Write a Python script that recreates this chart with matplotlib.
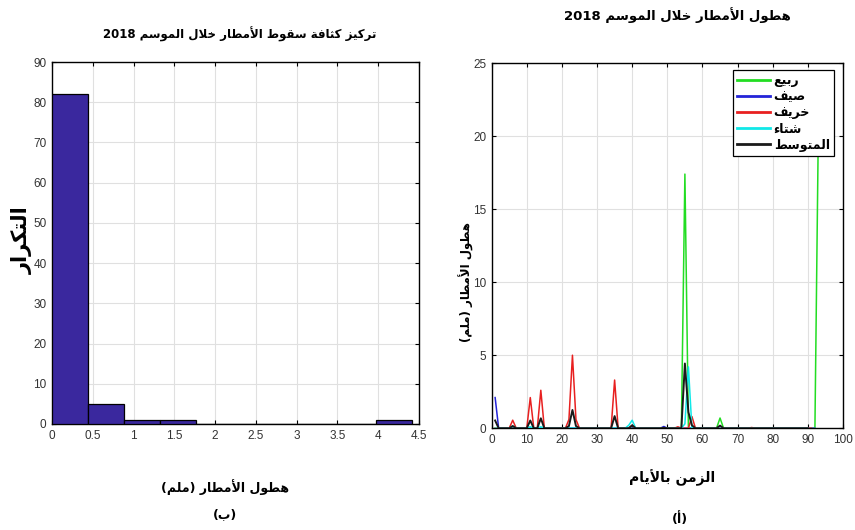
import re
import numpy as np
import matplotlib
matplotlib.use('Agg')
import matplotlib.pyplot as plt

# ---- data ----
# histogram of the daily mean (10 bins from 0 to the max)
hist_counts = [82, 5, 1, 1, 0, 0, 0, 0, 0, 1]
hist_max = 4.42

# daily rainfall per season (only the non-zero days, the rest are 0)
spring_len = 93
spring_days = [55, 65, 93]
spring_vals = [17.4, 0.7, 21.0]

summer_len = 92
summer_days = [1, 49]
summer_vals = [2.1, 0.12]

autumn_len = 91
autumn_days = [6, 11, 14, 22, 23, 24, 35, 40, 53, 57, 74]
autumn_vals = [0.55, 2.1, 2.6, 0.6, 5.0, 0.6, 3.3, 0.2, 0.1, 0.8, 0.05]

winter_len = 90
winter_days = [6, 11, 14, 39, 40, 55, 56]
winter_vals = [0.15, 0.1, 0.1, 0.2, 0.55, 0.3, 4.2]

mean_len = 90
mean_days = [1, 6, 11, 14, 22, 23, 24, 35, 40, 49, 55, 56, 57, 65]
mean_vals = [0.53, 0.15, 0.53, 0.68, 0.15, 1.25, 0.15, 0.83, 0.2, 0.03, 4.43, 1.1, 0.2, 0.18]

# ---- arabic shaping (matplotlib does no shaping / bidi) ----
AR_FORMS = {
    'ء': (0xFE80, 1), 'أ': (0xFE83, 2), 'ا': (0xFE8D, 2), 'ب': (0xFE8F, 4),
    'ة': (0xFE93, 2), 'ت': (0xFE95, 4), 'ث': (0xFE99, 4), 'ج': (0xFE9D, 4),
    'ح': (0xFEA1, 4), 'خ': (0xFEA5, 4), 'د': (0xFEA9, 2), 'ذ': (0xFEAB, 2),
    'ر': (0xFEAD, 2), 'ز': (0xFEAF, 2), 'س': (0xFEB1, 4), 'ش': (0xFEB5, 4),
    'ص': (0xFEB9, 4), 'ض': (0xFEBD, 4), 'ط': (0xFEC1, 4), 'ظ': (0xFEC5, 4),
    'ع': (0xFEC9, 4), 'غ': (0xFECD, 4), 'ف': (0xFED1, 4), 'ق': (0xFED5, 4),
    'ك': (0xFED9, 4), 'ل': (0xFEDD, 4), 'م': (0xFEE1, 4), 'ن': (0xFEE5, 4),
    'ه': (0xFEE9, 4), 'و': (0xFEED, 2), 'ى': (0xFEEF, 2), 'ي': (0xFEF1, 4),
    'لا': (0xFEFB, 2), 'لأ': (0xFEF7, 2),
}


def ar(s):
    toks = []
    i = 0
    while i < len(s):
        if s[i] == 'ل' and i + 1 < len(s) and s[i + 1] in 'اأ':
            toks.append(s[i:i + 2])
            i += 2
        else:
            toks.append(s[i])
            i += 1
    out = []
    for k, t in enumerate(toks):
        if t not in AR_FORMS:
            out.append(t)
            continue
        base, n = AR_FORMS[t]
        prev = toks[k - 1] if k > 0 else None
        nxt = toks[k + 1] if k + 1 < len(toks) else None
        jp = prev in AR_FORMS and AR_FORMS[prev][1] == 4 and n > 1
        jn = n == 4 and nxt in AR_FORMS and AR_FORMS[nxt][1] > 1
        idx = {(False, False): 0, (True, False): 1, (False, True): 2, (True, True): 3}[(jp, jn)]
        out.append(chr(base + idx))
    vis = ''.join(out[::-1])
    vis = re.sub(r'[0-9]+', lambda m: m.group()[::-1], vis)
    return vis.translate(str.maketrans('()', ')('))


def series(n, days, vals):
    y = np.zeros(n)
    y[np.array(days) - 1] = vals
    return np.arange(1, n + 1), y


plt.rcParams['font.family'] = ['DejaVu Sans']

fig = plt.figure(figsize=(8.55, 5.3), dpi=100)

# ---------- left: histogram ----------
ax1 = fig.add_axes([0.061, 0.2, 0.429, 0.683])
edges = np.linspace(0, hist_max, len(hist_counts) + 1)
ax1.bar(edges[:-1], hist_counts, width=np.diff(edges), align='edge',
        color='#3a289e', edgecolor='black', linewidth=0.9, zorder=3)
ax1.set_xlim(0, 4.5)
ax1.set_ylim(0, 90)
ax1.set_xticks(np.arange(0, 4.51, 0.5))
ax1.set_xticklabels(['0', '0.5', '1', '1.5', '2', '2.5', '3', '3.5', '4', '4.5'])
ax1.set_yticks(np.arange(0, 91, 10))

# ---------- right: daily rainfall ----------
ax2 = fig.add_axes([0.575, 0.192, 0.411, 0.689])
for n, d, v, c, lab, lw in [
        (spring_len, spring_days, spring_vals, '#22dd22', 'ربيع', 1.1),
        (summer_len, summer_days, summer_vals, '#2424d8', 'صيف', 1.1),
        (autumn_len, autumn_days, autumn_vals, '#e82020', 'خريف', 1.1),
        (winter_len, winter_days, winter_vals, '#10e8e8', 'شتاء', 1.1),
        (mean_len, mean_days, mean_vals, '#1a1a1a', 'المتوسط', 1.4)]:
    x, y = series(n, d, v)
    ax2.plot(x, y, color=c, linewidth=lw, label=ar(lab), zorder=3)
ax2.set_xlim(0, 100)
ax2.set_ylim(0, 25)
ax2.set_xticks(np.arange(0, 101, 10))
ax2.set_yticks(np.arange(0, 26, 5))
leg = ax2.legend(loc='upper right', bbox_to_anchor=(0.975, 0.982), borderaxespad=0,
                 prop=dict(family='DejaVu Sans', weight='bold', size=9),
                 handlelength=2.6, labelspacing=0.25, handletextpad=0.3,
                 borderpad=0.35, fancybox=False, framealpha=1)
leg.get_frame().set_edgecolor('black')
leg.get_frame().set_linewidth(0.9)
for h in leg.get_lines():
    h.set_linewidth(2.0)

for ax in (ax1, ax2):
    ax.grid(True, color='#e0e0e0', linewidth=0.8, zorder=0)
    ax.set_axisbelow(True)
    ax.tick_params(direction='in', top=True, right=True, length=3, width=0.8,
                   colors='black', labelcolor='#333333', pad=4)
    for lab in ax.get_xticklabels() + ax.get_yticklabels():
        lab.set_fontfamily('Liberation Sans')
        lab.set_fontsize(8.5)
    for sp in ax.spines.values():
        sp.set_linewidth(1.0)

# ---------- texts ----------
bold = dict(weight='bold', ha='center', va='center')
fig.text(240 / 855, 1 - 34 / 530, ar('تركيز كثافة سقوط الأمطار خلال الموسم 2018'), size=8.5, **bold)
fig.text(677 / 855, 1 - 15 / 530, ar('هطول الأمطار خلال الموسم 2018'), size=9.5, **bold)
fig.text(22 / 855, 1 - 240 / 530, ar('التكرار'), size=15, rotation=90, **bold)
fig.text(466 / 855, 1 - 282 / 530, ar('هطول الأمطار (ملم)'), size=8.5, rotation=90, **bold)
fig.text(225 / 855, 1 - 487 / 530, ar('هطول الأمطار (ملم)'), size=9, **bold)
fig.text(225 / 855, 1 - 515 / 530, ar('(ب)'), size=9, **bold)
fig.text(672 / 855, 1 - 478 / 530, ar('الزمن بالأيام'), size=10, **bold)
fig.text(680 / 855, 1 - 519 / 530, ar('(أ)'), size=9, **bold)

fig.savefig('out.png', dpi=100)
